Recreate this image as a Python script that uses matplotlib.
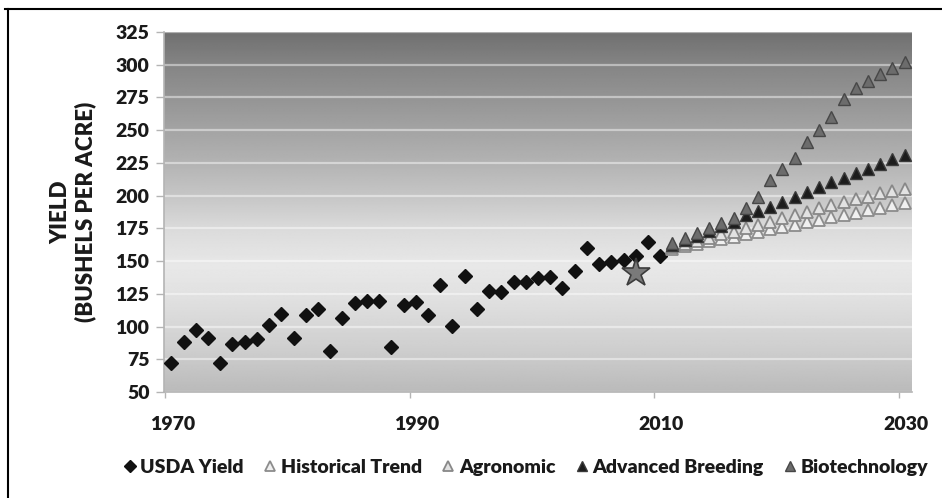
import numpy as np
import matplotlib.pyplot as plt
import matplotlib.transforms as mtransforms
from matplotlib.lines import Line2D

plt.rcParams['font.family'] = ['Lato', 'DejaVu Sans']
plt.rcParams['font.weight'] = 'heavy'

# USDA yields (bushels per acre), one per year
usda_years = list(range(1970, 2011))
usda_yield = [72.4, 88.1, 97.0, 91.3, 71.9, 86.4, 88.0, 90.8, 101.0, 109.5,
              91.0, 108.9, 113.2, 81.1, 106.7, 118.0, 119.4, 119.8, 84.6, 116.3,
              118.5, 108.6, 131.5, 100.7, 138.6, 113.5, 127.1, 126.7, 134.4, 133.8,
              136.9, 138.2, 129.3, 142.2, 160.3, 147.9, 149.1, 150.7, 153.9, 164.7,
              154.0]

# projections 2011-2030
proj_years = list(range(2011, 2031))
historical = [159.5, 161.3, 163.2, 165.0, 166.9, 168.7, 170.5, 172.4, 174.2, 176.1,
              177.9, 179.7, 181.6, 183.4, 185.3, 187.1, 188.9, 190.8, 192.6, 194.5]
agronomic = [160.5, 163.0, 165.5, 168.0, 170.5, 172.5, 175.0, 177.5, 180.0, 182.7,
             185.2, 187.7, 190.3, 192.9, 195.4, 197.2, 199.2, 201.8, 203.8, 204.8]
advanced = [162.5, 166.0, 169.5, 173.0, 176.5, 180.1, 185.2, 188.5, 191.6, 195.4,
            199.2, 203.0, 206.8, 210.2, 213.3, 217.1, 220.4, 224.2, 228.0, 231.1]
biotech = [163.6, 167.4, 171.2, 175.1, 178.9, 182.7, 190.3, 199.2, 212.0, 220.1,
           229.0, 241.2, 250.2, 260.3, 273.8, 282.0, 287.6, 292.7, 297.3, 301.9]

star_year = 2008
star_value = 141

x_ticks = [1970, 1990, 2010, 2030]
y_ticks = list(range(50, 326, 25))

fig = plt.figure(figsize=(9.42, 4.98), dpi=100)
ax = fig.add_axes([164/942, 1 - 392/498, 748/942, 360/498])
xmin, xmax = 1969.9, 2031.1
ax.set_xlim(xmin, xmax)
ax.set_ylim(50, 325)

# vertical gray gradient background (dark top, light middle, grey bottom)
stops_t = [0, 0.09, 0.36, 0.46, 0.55, 0.65, 0.74, 0.88, 1.0]
stops_v = [0.44, 0.52, 0.70, 0.78, 0.86, 0.91, 0.88, 0.81, 0.73]
t = np.linspace(0, 1, 400)
g = np.interp(t, stops_t, stops_v)
ax.imshow(np.repeat(g[:, None], 2, axis=1), cmap='gray', vmin=0, vmax=1,
          extent=(xmin, xmax, 50, 325), aspect='auto', origin='upper',
          interpolation='bilinear', zorder=0)

ax.set_axisbelow(True)
ax.yaxis.grid(True, color='white', alpha=0.45, lw=1.6)

# points sit in the middle of each year
off = 0.5
ux = np.array(usda_years) + off
px = np.array(proj_years) + off

ax.plot(ux, usda_yield, 'D', ms=7.5, color='#111111', label='USDA Yield', zorder=3)
ax.plot(px, historical, '^', ms=9, mfc='#f0f0f0', mec='#8c8c8c', mew=1.3,
        label='Historical Trend', zorder=3)
ax.plot(px, agronomic, '^', ms=9, mfc='#e2e2e2', mec='#888888', mew=1.3,
        label='Agronomic', zorder=3)
ax.plot(px, advanced, '^', ms=9, mfc='#1c1c1c', mec='#3a3a3a', mew=1,
        label='Advanced Breeding', zorder=3)
ax.plot(px, biotech, '^', ms=9, mfc='#6c6c6c', mec='#474747', mew=1,
        label='Biotechnology', zorder=3)
ax.plot(star_year + off, star_value, '*', ms=21, mfc='#7a7a7a', mec='#3c3c3c',
        mew=1.2, zorder=4)

for s in ['top', 'right']:
    ax.spines[s].set_visible(False)
for s in ['left', 'bottom']:
    ax.spines[s].set_color('#b4b4b4')
    ax.spines[s].set_linewidth(1.2)

ax.set_xticks(x_ticks)
ax.set_yticks(y_ticks)
ax.tick_params(axis='y', length=5.5, width=1, color='#b4b4b4', pad=5,
               labelsize=14, labelcolor='#1a1a1a')
ax.tick_params(axis='x', length=4, width=1, color='#b4b4b4', pad=13,
               labelsize=14, labelcolor='#1a1a1a')
# year labels sit a little right of their ticks in the original
shift = mtransforms.ScaledTranslation(5/72, 0, fig.dpi_scale_trans)
for lab in ax.get_xticklabels():
    lab.set_transform(lab.get_transform() + shift)

fig.text(73/942, 1 - 212/498, 'YIELD\n(BUSHELS PER ACRE)', rotation=90,
         ha='center', va='center', fontsize=16, fontweight='heavy',
         linespacing=1.15, multialignment='center', color='#1a1a1a')

handles, labels = ax.get_legend_handles_labels()
fig.legend(handles, labels, loc='center left', bbox_to_anchor=(122/942, 1 - 467/498),
           ncol=5, frameon=False, fontsize=14, handlelength=0.8, handletextpad=0.15,
           columnspacing=0.95, borderpad=0, borderaxespad=0, markerscale=0.8,
           labelcolor='#1a1a1a')

# frame lines of the original figure box
fig.add_artist(Line2D([5/942, 1], [1 - 9/498, 1 - 9/498], color='black', lw=1.5))
fig.add_artist(Line2D([8/942, 8/942], [0, 1 - 9/498], color='black', lw=1.5))

fig.savefig('out.png', dpi=100)
